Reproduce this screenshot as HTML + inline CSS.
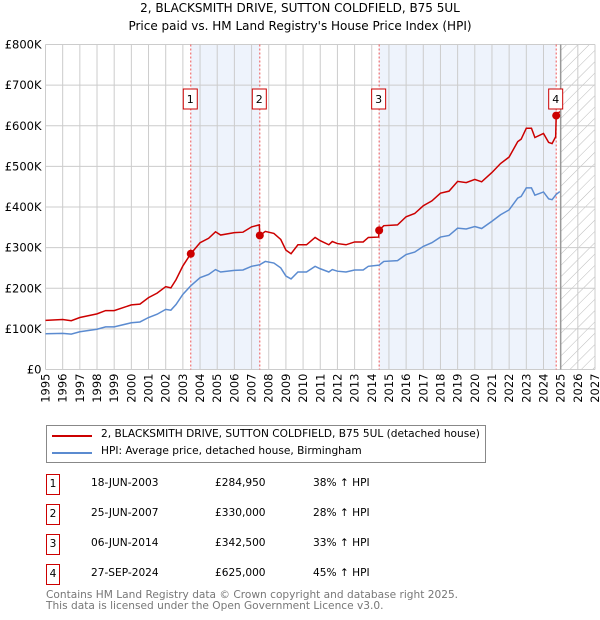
<!DOCTYPE html>
<html><head><meta charset="utf-8"><style>
body{margin:0;background:#fff;font-family:"DejaVu Sans","Liberation Sans",sans-serif;}
#wrap{position:relative;width:600px;height:620px;overflow:hidden}
.t{position:absolute;font-size:10.6px;color:#000;white-space:nowrap}
.box{position:absolute;border:1px solid #c00;width:12px;height:19px;font-size:10.6px;text-align:center;line-height:19px;left:46px}
</style></head><body>
<div id="wrap">
<div class="t" style="left:0;width:600px;text-align:center;top:1px;font-size:12px">2, BLACKSMITH DRIVE, SUTTON COLDFIELD, B75 5UL</div>
<div class="t" style="left:0;width:600px;text-align:center;top:19px;font-size:12px">Price paid vs. HM Land Registry's House Price Index (HPI)</div>
<svg id="chart" width="600" height="420" style="position:absolute;left:0;top:0"></svg>
<div style="position:absolute;left:46px;top:425px;width:438px;height:36px;border:1px solid #888">
 <div style="position:absolute;left:5px;top:9px;width:40px;height:2px;background:#c00"></div>
 <div class="t" style="left:54px;top:2px">2, BLACKSMITH DRIVE, SUTTON COLDFIELD, B75 5UL (detached house)</div>
 <div style="position:absolute;left:5px;top:26px;width:40px;height:2px;background:#5b8bd0"></div>
 <div class="t" style="left:54px;top:19px">HPI: Average price, detached house, Birmingham</div>
</div>
<div id="rows"></div>
<div class="t" style="left:46px;top:589px;color:#777">Contains HM Land Registry data © Crown copyright and database right 2025.</div>
<div class="t" style="left:46px;top:600px;color:#777">This data is licensed under the Open Government Licence v3.0.</div>
</div>
<script>
const hpiYears=[1995,1996,1996.5,1997,1998,1998.5,1999,2000,2000.5,2001,2001.5,2002,2002.3,2002.6,2003,2003.46,2004,2004.5,2004.9,2005.2,2006,2006.5,2007,2007.48,2007.8,2008.3,2008.7,2009,2009.3,2009.7,2010.2,2010.7,2011,2011.5,2011.7,2012,2012.5,2013,2013.5,2013.8,2014.43,2014.7,2015.5,2016,2016.5,2017,2017.5,2018,2018.5,2019,2019.5,2020,2020.4,2021,2021.5,2022,2022.5,2022.7,2023,2023.3,2023.5,2024,2024.3,2024.5,2024.74,2024.95];
const hpiValues=[88,89,87,93,99,105,105,115,117,128,136,148,146,160,185,206,226,234,246,240,244,245,254,258,266,262,250,230,223,240,240,254,248,240,246,242,240,245,245,254,257,266,268,283,289,303,312,326,330,348,346,352,347,365,381,393,422,426,447,447,429,437,420,418,431,438];
const priceYears=[1995,1996,1996.5,1997,1998,1998.5,1999,2000,2000.5,2001,2001.5,2002,2002.3,2002.6,2003,2003.46,2004,2004.5,2004.9,2005.2,2006,2006.5,2007,2007.45,2007.48,2007.8,2008.3,2008.7,2009,2009.3,2009.7,2010.2,2010.7,2011,2011.5,2011.7,2012,2012.5,2013,2013.5,2013.8,2014.4,2014.43,2014.7,2015.5,2016,2016.5,2017,2017.5,2018,2018.5,2019,2019.5,2020,2020.4,2021,2021.5,2022,2022.5,2022.7,2023,2023.3,2023.5,2024,2024.3,2024.5,2024.71,2024.74,2024.95];
const priceValues=[121,123,120,128,137,145,145,159,161,177,188,204,201,221,255,285,312,323,339,331,337,338,351,356,330,340,335,320,294,285,307,307,325,317,307,315,310,307,314,314,325,326,342.5,354,356,376,384,403,415,434,439,463,460,468,462,485,507,523,561,567,594,594,571,581,559,556,573,625,635];
const saleYears=[2003.46,2007.48,2014.43,2024.74];
const saleValues=[284.95,330,342.5,625];
const saleLabels=["1","2","3","4"];
const saleDates=["18-JUN-2003","25-JUN-2007","06-JUN-2014","27-SEP-2024"];
const salePrices=["£284,950","£330,000","£342,500","£625,000"];
const saleHpi=["38% ↑ HPI","28% ↑ HPI","33% ↑ HPI","45% ↑ HPI"];
const yTicks=[0,100,200,300,400,500,600,700,800];
const yTickLabels=["£0","£100K","£200K","£300K","£400K","£500K","£600K","£700K","£800K"];
const xTicks=[1995,1996,1997,1998,1999,2000,2001,2002,2003,2004,2005,2006,2007,2008,2009,2010,2011,2012,2013,2014,2015,2016,2017,2018,2019,2020,2021,2022,2023,2024,2025,2026,2027];
const dataEnd=2025.0;

const X0=45.5,X1=595,Y0=369.5,Y1=44.5;
const xs=y=>X0+(y-1995)/(2027-1995)*(X1-X0);
const ys=v=>Y0-(v/800)*(Y0-Y1);
const NS="http://www.w3.org/2000/svg";
const svg=document.getElementById('chart');
function mk(tag,at,parent){const e=document.createElementNS(NS,tag);for(const k in at)e.setAttribute(k,at[k]);(parent||svg).appendChild(e);return e;}
const defs=mk('defs',{});
const pat=mk('pattern',{id:'hatch',width:8,height:8,patternUnits:'userSpaceOnUse',patternTransform:'rotate(45)'},defs);
mk('line',{x1:0,y1:0,x2:0,y2:8,stroke:'#bbb','stroke-width':1},pat);
[[0,1],[2,3]].forEach((p,i)=>{const r=mk('rect',{x:xs(saleYears[p[0]]),y:Y1,width:xs(saleYears[p[1]])-xs(saleYears[p[0]]),height:Y0-Y1,fill:'#eef3fc'});
});
const h=mk('rect',{x:xs(dataEnd),y:Y1,width:X1-xs(dataEnd),height:Y0-Y1,fill:'url(#hatch)'});

xTicks.forEach(t=>{const l=mk('line',{x1:xs(t),x2:xs(t),y1:Y1,y2:Y0,stroke:'#ccc','stroke-width':1});

const tx=mk('text',{x:0,y:0,'font-size':11.5,'text-anchor':'end',transform:`translate(${xs(t)+4},${Y0+4}) rotate(-90)`});tx.textContent=t;
});
yTicks.forEach((t,i)=>{const l=mk('line',{x1:X0,x2:X1,y1:ys(t),y2:ys(t),stroke:'#ccc','stroke-width':1});

const tx=mk('text',{x:X0-4,y:ys(t)+4,'font-size':11.5,'text-anchor':'end'});tx.textContent=yTickLabels[i];
});
const el=mk('line',{x1:xs(dataEnd),x2:xs(dataEnd),y1:Y1,y2:Y0,stroke:'#999','stroke-width':1.5});

saleYears.forEach((s,i)=>{const l=mk('line',{x1:xs(s),x2:xs(s),y1:Y1,y2:Y0,stroke:'#e55','stroke-width':1,'stroke-dasharray':'2,2'});
});
const hp=mk('polyline',{points:hpiYears.map((y,i)=>xs(y)+','+ys(hpiValues[i])).join(' '),fill:'none',stroke:'#5b8bd0','stroke-width':1.5});

const pp=mk('polyline',{points:priceYears.map((y,i)=>xs(y)+','+ys(priceValues[i])).join(' '),fill:'none',stroke:'#c00','stroke-width':1.5});

saleYears.forEach((s,i)=>{const c=mk('circle',{cx:xs(s),cy:ys(saleValues[i]),r:4,fill:'#c00'});

const b=mk('rect',{x:xs(s)-7.5,y:89,width:14,height:20,fill:'#fff',stroke:'#c00'});

const t=mk('text',{x:xs(s)-0.5,y:103,'font-size':11,'text-anchor':'middle'});t.textContent=saleLabels[i];
});
const rows=document.getElementById('rows');
saleLabels.forEach((lab,i)=>{const top=474+i*30;
const b=document.createElement('div');b.className='box';b.style.top=top+'px';b.textContent=lab;
rows.appendChild(b);
[[91,saleDates[i],'row-date'],[215,salePrices[i],'row-price'],[313,saleHpi[i],'row-hpi-change']].forEach(c=>{
const d=document.createElement('div');d.className='t';d.style.left=c[0]+'px';d.style.top=(top+3)+'px';d.textContent=c[1];
rows.appendChild(d);});});
</script>
</body></html>
